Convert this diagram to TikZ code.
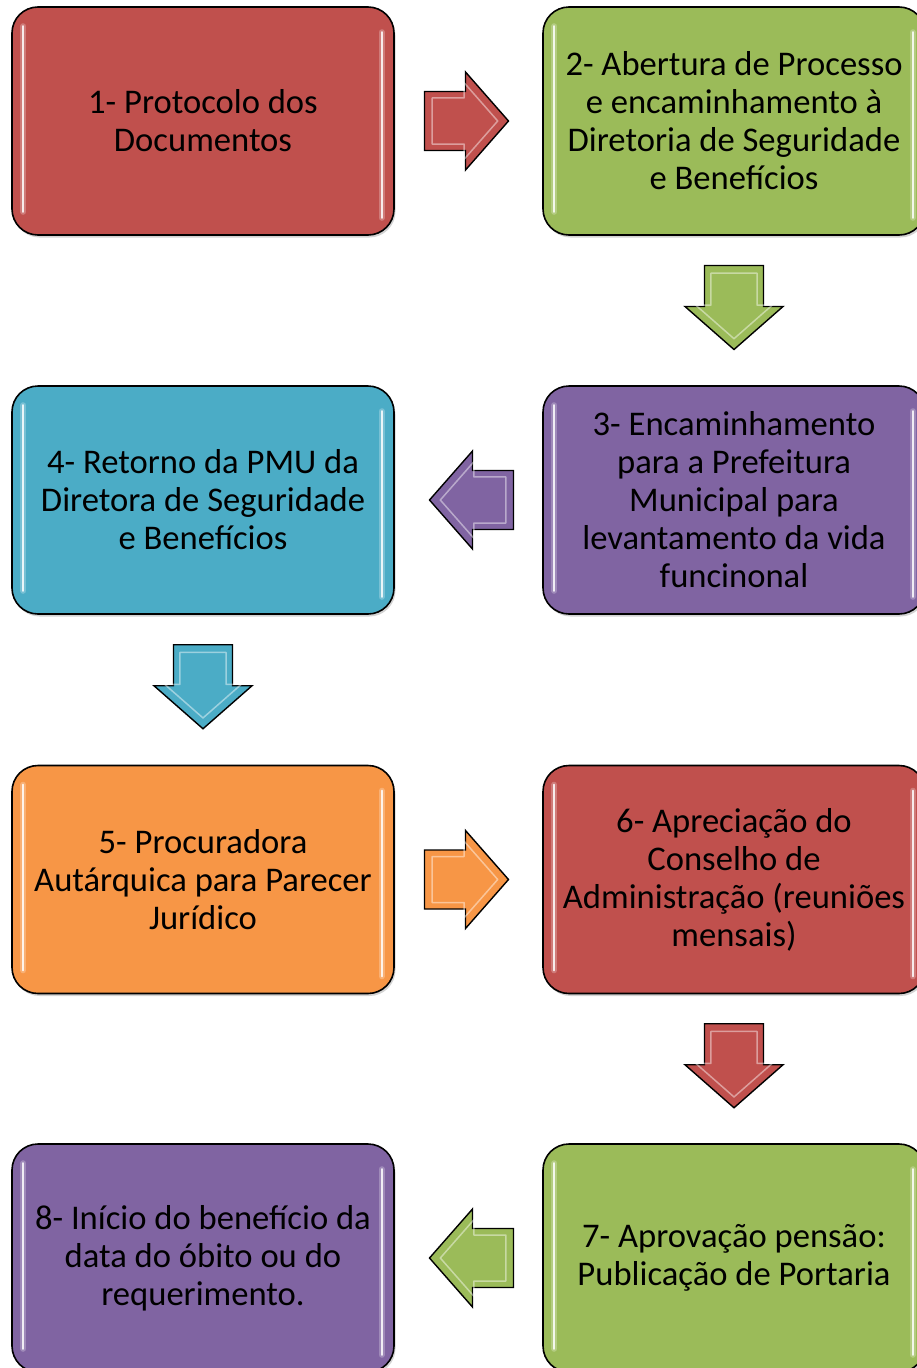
\documentclass[tikz,border=0pt]{standalone}
\usepackage{fontspec}
\setmainfont{Carlito}
\usetikzlibrary{shadows,calc}
\definecolor{cred}{HTML}{C0504D}
\definecolor{cgreen}{HTML}{9BBB59}
\definecolor{cpurple}{HTML}{8064A2}
\definecolor{cblue}{HTML}{4BACC6}
\definecolor{corange}{HTML}{F79646}
\tikzset{
  box/.style={rounded corners=26pt, minimum width=382pt, minimum height=228pt,
    draw=black, line width=1.6pt, align=center, inner sep=0pt,
    font=\fontsize{34.6}{38}\selectfont, text=black,
    drop shadow={shadow xshift=1.5pt, shadow yshift=-2.5pt, opacity=0.35}},
  hl/.style={white, line width=2.2pt, line cap=round, opacity=0.85},
  hlglow/.style={white, line width=6pt, line cap=round, opacity=0.25},
  barrow/.pic={
    \path[pic actions, line join=miter] (-42,29.5) -- (-1,29.5) -- (-1,49) -- (42,0) -- (-1,-49) -- (-1,-29.5) -- (-42,-29.5) -- cycle;
    \draw[white, opacity=0.45, line width=1.5pt, line join=round, scale=0.78, xshift=-2pt] (-42,29.5) -- (-1,29.5) -- (-1,49) -- (42,0) -- (-1,-49) -- (-1,-29.5) -- (-42,-29.5) -- cycle;
  },
  arr/.style={draw=black, line width=1.4pt}
}
\begin{document}
\begin{tikzpicture}[x=1pt,y=1pt]
\useasboundingbox (0,0) rectangle (917,-1368);
\clip (0,0) rectangle (917,-1368);
\node[box, fill=cred]    (b1) at (203,-121)   {1- Protocolo dos\\Documentos};
\node[box, fill=cgreen]  (b2) at (734,-121)   {2- Abertura de Processo\\e encaminhamento à\\Diretoria de Seguridade\\e Benefícios};
\node[box, fill=cpurple] (b3) at (734,-500)   {3- Encaminhamento\\para a Prefeitura\\Municipal para\\levantamento da vida\\funcinonal};
\node[box, fill=cblue]   (b4) at (203,-500)   {4- Retorno da PMU da\\Diretora de Seguridade\\e Benefícios};
\node[box, fill=corange] (b5) at (203,-879.5) {5- Procuradora\\Autárquica para Parecer\\Jurídico};
\node[box, fill=cred]    (b6) at (734,-879.5) {6- Apreciação do\\Conselho de\\Administração (reuniões\\mensais)};
\node[box, fill=cgreen]  (b7) at (734,-1258)  {7- Aprovação pensão:\\Publicação de Portaria};
\node[box, fill=cpurple] (b8) at (203,-1258)  {8- Início do benefício da\\data do óbito ou do\\requerimento.};
\foreach \b in {b1,b2,b3,b4,b5,b6,b7,b8}{
  \draw[hlglow] ([xshift=12pt,yshift=-20pt]\b.north west) -- ([xshift=12pt,yshift=24pt]\b.south west);
  \draw[hl] ([xshift=12pt,yshift=-20pt]\b.north west) -- ([xshift=12pt,yshift=24pt]\b.south west);
  \draw[hlglow] ([xshift=-13pt,yshift=-26pt]\b.north east) -- ([xshift=-13pt,yshift=18pt]\b.south east);
  \draw[hl] ([xshift=-13pt,yshift=-26pt]\b.north east) -- ([xshift=-13pt,yshift=18pt]\b.south east);
}
\pic[arr, fill=cred]                 at ($(b1.east)!0.5!(b2.west)+(-2,0)$) {barrow};
\pic[arr, fill=cgreen, rotate=-90]   at ($(b2.south)!0.5!(b3.north)+(0,3)$) {barrow};
\pic[arr, fill=cpurple, rotate=180]  at ($(b3.west)!0.5!(b4.east)+(3,0)$) {barrow};
\pic[arr, fill=cblue, rotate=-90]    at ($(b4.south)!0.5!(b5.north)+(0,3)$) {barrow};
\pic[arr, fill=corange]              at ($(b5.east)!0.5!(b6.west)+(-2,0)$) {barrow};
\pic[arr, fill=cred, rotate=-90]     at ($(b6.south)!0.5!(b7.north)+(0,3)$) {barrow};
\pic[arr, fill=cgreen, rotate=180]   at ($(b7.west)!0.5!(b8.east)+(3,0)$) {barrow};
\end{tikzpicture}
\end{document}
